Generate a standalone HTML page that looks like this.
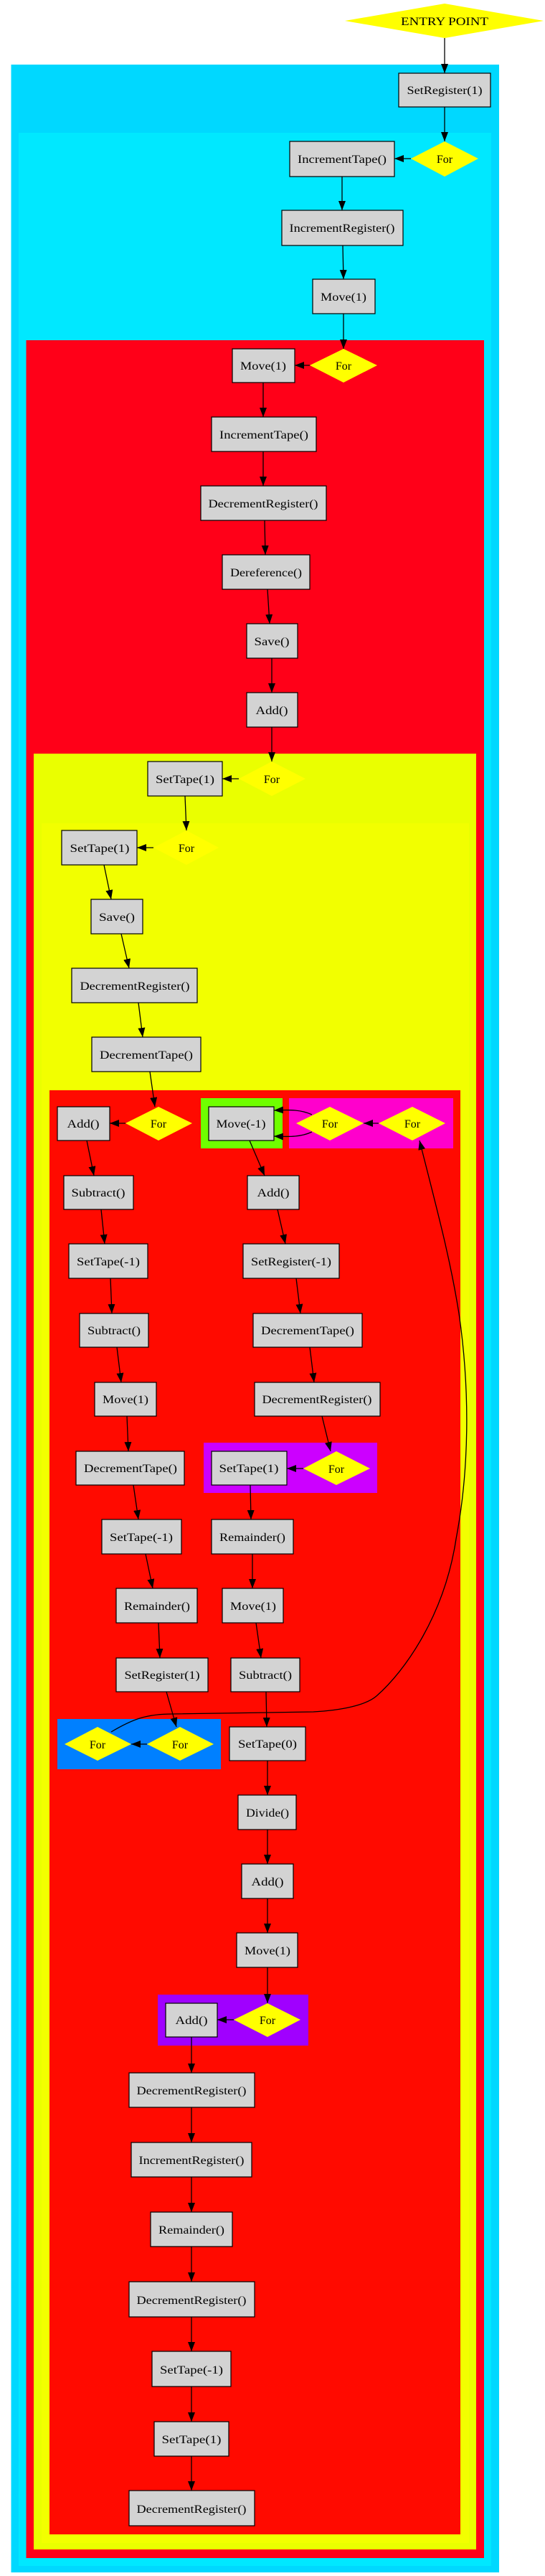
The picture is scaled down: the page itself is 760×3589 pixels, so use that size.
<!DOCTYPE html>
<html><head><meta charset="utf-8"><style>
html,body{margin:0;padding:0;background:#fff}
svg{display:block}
text{font-family:"Liberation Serif",serif;font-size:16px;fill:#000}
</style></head><body>
<svg width="760" height="3589" viewBox="0 0 760 3589" xmlns="http://www.w3.org/2000/svg">
<defs>
<marker id="a" markerUnits="userSpaceOnUse" markerWidth="14" markerHeight="10" refX="13" refY="5" orient="auto">
<path d="M0,0 L13,5 L0,10 Z" fill="#000"/>
</marker>
</defs>
<!-- clusters -->
<rect x="15.5" y="90" width="680.5" height="3494" fill="#00d8ff"/>
<rect x="26" y="185" width="659" height="3390" fill="#00e8ff"/>
<rect x="36.5" y="474" width="638.5" height="3090" fill="#ff0018"/>
<rect x="47" y="1050" width="617" height="2502" fill="#eaff00"/>
<rect x="58" y="1147" width="596" height="2396" fill="#f2ff00"/>
<rect x="69" y="1519" width="573" height="2012" fill="#ff0a00"/>
<rect x="280" y="1530" width="114" height="70" fill="#6fff00"/>
<rect x="403" y="1530" width="229" height="70" fill="#ff00cc"/>
<rect x="284" y="2010" width="242" height="70" fill="#cc00ff"/>
<rect x="80" y="2395" width="228" height="70" fill="#0080ff"/>
<rect x="220" y="2779" width="210" height="71" fill="#a000ff"/>

<g fill="#ffff00">
<polygon points="481,29 620,5 758,29 620,53"/>
<polygon points="573,221 620,197 667,221 620,246"/>
<polygon points="432,509 479,486 526,509 479,533"/>
<polygon points="333,1085 379,1061 426,1085 379,1109"/>
<polygon points="214,1181 260,1157 305,1181 260,1205"/>
<polygon points="175,1565 221,1542 268,1565 221,1589"/>
<polygon points="413,1565 460,1542 507,1565 460,1589"/>
<polygon points="528,1565 575,1542 621,1565 575,1589"/>
<polygon points="423,2046 469,2022 516,2046 469,2069"/>
<polygon points="90,2430 136,2406 183,2430 136,2453"/>
<polygon points="205,2430 251,2406 298,2430 251,2453"/>
<polygon points="326,2814 373,2791 419,2814 373,2838"/>
</g>
<g text-anchor="middle">
<text x="620" y="35" textLength="122" lengthAdjust="spacingAndGlyphs">ENTRY POINT</text>
<text x="620" y="227">For</text>
<text x="479" y="515">For</text>
<text x="379" y="1091">For</text>
<text x="260" y="1187">For</text>
<text x="221" y="1571">For</text>
<text x="460" y="1571">For</text>
<text x="575" y="1571">For</text>
<text x="469" y="2052">For</text>
<text x="136" y="2436">For</text>
<text x="251" y="2436">For</text>
<text x="373" y="2820">For</text>
</g>

<g fill="#d3d3d3" stroke="#000" stroke-width="1.2">
<rect x="556" y="102" width="128" height="47"/>
<rect x="404" y="197" width="146" height="49"/>
<rect x="393" y="293" width="169" height="49"/>
<rect x="436" y="389" width="87" height="48"/>
<rect x="324" y="486" width="87" height="47"/>
<rect x="295" y="581" width="146" height="48"/>
<rect x="280" y="677" width="175" height="48"/>
<rect x="310" y="773" width="122" height="48"/>
<rect x="344" y="869" width="71" height="48"/>
<rect x="344" y="965" width="71" height="48"/>
<rect x="206" y="1061" width="104" height="48"/>
<rect x="86" y="1157" width="105" height="48"/>
<rect x="127" y="1253" width="72" height="48"/>
<rect x="100" y="1349" width="175" height="48"/>
<rect x="128" y="1445" width="152" height="48"/>
<rect x="80" y="1542" width="73" height="47"/>
<rect x="291" y="1542" width="91" height="47"/>
<rect x="345" y="1638" width="72" height="47"/>
<rect x="89" y="1638" width="97" height="47"/>
<rect x="96" y="1733" width="110" height="48"/>
<rect x="339" y="1733" width="134" height="48"/>
<rect x="111" y="1830" width="96" height="47"/>
<rect x="353" y="1830" width="152" height="47"/>
<rect x="132" y="1926" width="86" height="47"/>
<rect x="355" y="1926" width="175" height="47"/>
<rect x="106" y="2022" width="151" height="47"/>
<rect x="295" y="2022" width="105" height="47"/>
<rect x="142" y="2117" width="111" height="48"/>
<rect x="295" y="2117" width="114" height="48"/>
<rect x="162" y="2213" width="113" height="48"/>
<rect x="310" y="2213" width="85" height="48"/>
<rect x="162" y="2310" width="128" height="47"/>
<rect x="322" y="2310" width="96" height="47"/>
<rect x="320" y="2406" width="106" height="47"/>
<rect x="332" y="2501" width="81" height="48"/>
<rect x="337" y="2597" width="72" height="48"/>
<rect x="330" y="2693" width="85" height="48"/>
<rect x="231" y="2791" width="72" height="47"/>
<rect x="180" y="2888" width="175" height="48"/>
<rect x="183" y="2985" width="168" height="48"/>
<rect x="210" y="3082" width="114" height="48"/>
<rect x="180" y="3179" width="175" height="49"/>
<rect x="212" y="3276" width="110" height="49"/>
<rect x="215" y="3374" width="104" height="48"/>
<rect x="180" y="3470" width="175" height="49"/>
</g>
<g text-anchor="middle" lengthAdjust="spacingAndGlyphs">
<text x="620" y="131" textLength="105" lengthAdjust="spacingAndGlyphs">SetRegister(1)</text>
<text x="477" y="227" textLength="124" lengthAdjust="spacingAndGlyphs">IncrementTape()</text>
<text x="477" y="323" textLength="147" lengthAdjust="spacingAndGlyphs">IncrementRegister()</text>
<text x="479" y="419" textLength="64" lengthAdjust="spacingAndGlyphs">Move(1)</text>
<text x="367" y="515" textLength="64" lengthAdjust="spacingAndGlyphs">Move(1)</text>
<text x="368" y="611" textLength="124" lengthAdjust="spacingAndGlyphs">IncrementTape()</text>
<text x="367" y="707" textLength="153" lengthAdjust="spacingAndGlyphs">DecrementRegister()</text>
<text x="371" y="803" textLength="100" lengthAdjust="spacingAndGlyphs">Dereference()</text>
<text x="379" y="899" textLength="49" lengthAdjust="spacingAndGlyphs">Save()</text>
<text x="379" y="995" textLength="45" lengthAdjust="spacingAndGlyphs">Add()</text>
<text x="258" y="1091" textLength="82" lengthAdjust="spacingAndGlyphs">SetTape(1)</text>
<text x="139" y="1187" textLength="83" lengthAdjust="spacingAndGlyphs">SetTape(1)</text>
<text x="163" y="1283" textLength="50" lengthAdjust="spacingAndGlyphs">Save()</text>
<text x="188" y="1379" textLength="153" lengthAdjust="spacingAndGlyphs">DecrementRegister()</text>
<text x="204" y="1475" textLength="130" lengthAdjust="spacingAndGlyphs">DecrementTape()</text>
<text x="116" y="1571" textLength="45" lengthAdjust="spacingAndGlyphs">Add()</text>
<text x="336" y="1571" textLength="69" lengthAdjust="spacingAndGlyphs">Move(-1)</text>
<text x="381" y="1667" textLength="45" lengthAdjust="spacingAndGlyphs">Add()</text>
<text x="137" y="1667" textLength="75" lengthAdjust="spacingAndGlyphs">Subtract()</text>
<text x="151" y="1763" textLength="88" lengthAdjust="spacingAndGlyphs">SetTape(-1)</text>
<text x="406" y="1763" textLength="112" lengthAdjust="spacingAndGlyphs">SetRegister(-1)</text>
<text x="159" y="1859" textLength="74" lengthAdjust="spacingAndGlyphs">Subtract()</text>
<text x="429" y="1859" textLength="130" lengthAdjust="spacingAndGlyphs">DecrementTape()</text>
<text x="175" y="1955" textLength="64" lengthAdjust="spacingAndGlyphs">Move(1)</text>
<text x="442" y="1955" textLength="153" lengthAdjust="spacingAndGlyphs">DecrementRegister()</text>
<text x="182" y="2051" textLength="130" lengthAdjust="spacingAndGlyphs">DecrementTape()</text>
<text x="347" y="2051" textLength="83" lengthAdjust="spacingAndGlyphs">SetTape(1)</text>
<text x="197" y="2147" textLength="88" lengthAdjust="spacingAndGlyphs">SetTape(-1)</text>
<text x="352" y="2147" textLength="92" lengthAdjust="spacingAndGlyphs">Remainder()</text>
<text x="219" y="2243" textLength="92" lengthAdjust="spacingAndGlyphs">Remainder()</text>
<text x="353" y="2243" textLength="64" lengthAdjust="spacingAndGlyphs">Move(1)</text>
<text x="226" y="2339" textLength="105" lengthAdjust="spacingAndGlyphs">SetRegister(1)</text>
<text x="370" y="2339" textLength="74" lengthAdjust="spacingAndGlyphs">Subtract()</text>
<text x="373" y="2435" textLength="82" lengthAdjust="spacingAndGlyphs">SetTape(0)</text>
<text x="373" y="2531" textLength="60" lengthAdjust="spacingAndGlyphs">Divide()</text>
<text x="373" y="2627" textLength="45" lengthAdjust="spacingAndGlyphs">Add()</text>
<text x="373" y="2723" textLength="64" lengthAdjust="spacingAndGlyphs">Move(1)</text>
<text x="267" y="2820" textLength="45" lengthAdjust="spacingAndGlyphs">Add()</text>
<text x="267" y="2918" textLength="153" lengthAdjust="spacingAndGlyphs">DecrementRegister()</text>
<text x="267" y="3015" textLength="147" lengthAdjust="spacingAndGlyphs">IncrementRegister()</text>
<text x="267" y="3112" textLength="92" lengthAdjust="spacingAndGlyphs">Remainder()</text>
<text x="267" y="3210" textLength="153" lengthAdjust="spacingAndGlyphs">DecrementRegister()</text>
<text x="267" y="3307" textLength="88" lengthAdjust="spacingAndGlyphs">SetTape(-1)</text>
<text x="267" y="3404" textLength="83" lengthAdjust="spacingAndGlyphs">SetTape(1)</text>
<text x="267" y="3501" textLength="153" lengthAdjust="spacingAndGlyphs">DecrementRegister()</text>
</g>

<g stroke="#000" stroke-width="1.3" fill="none" marker-end="url(#a)">
<line x1="620" y1="53" x2="620" y2="102"/>
<line x1="620" y1="149" x2="620" y2="197"/>
<line x1="573" y1="221" x2="550" y2="221"/>
<line x1="477" y1="246" x2="477" y2="293"/>
<line x1="478" y1="342" x2="479" y2="389"/>
<line x1="479" y1="437" x2="479" y2="486"/>
<line x1="432" y1="509" x2="411" y2="509"/>
<line x1="367" y1="533" x2="367" y2="581"/>
<line x1="367" y1="629" x2="367" y2="677"/>
<line x1="369" y1="725" x2="370" y2="773"/>
<line x1="373" y1="821" x2="376" y2="869"/>
<line x1="379" y1="917" x2="379" y2="965"/>
<line x1="379" y1="1013" x2="379" y2="1061"/>
<line x1="333" y1="1085" x2="310" y2="1085"/>
<line x1="258" y1="1109" x2="260" y2="1157"/>
<line x1="214" y1="1181" x2="191" y2="1181"/>
<line x1="145" y1="1205" x2="155" y2="1253"/>
<line x1="169" y1="1301" x2="180" y2="1349"/>
<line x1="193" y1="1397" x2="199" y2="1445"/>
<line x1="209" y1="1493" x2="216" y2="1542"/>
<line x1="175" y1="1565" x2="153" y2="1565"/>
<path d="M435,1553 C420,1546 405,1546 382,1547"/>
<path d="M435,1577 C420,1584 405,1584 382,1583"/>
<line x1="528" y1="1565" x2="507" y2="1565"/>
<line x1="121" y1="1589" x2="131" y2="1638"/>
<line x1="348" y1="1589" x2="369" y2="1638"/>
<line x1="141" y1="1685" x2="146" y2="1733"/>
<line x1="387" y1="1685" x2="398" y2="1733"/>
<line x1="154" y1="1781" x2="156" y2="1830"/>
<line x1="413" y1="1781" x2="419" y2="1830"/>
<line x1="163" y1="1877" x2="169" y2="1926"/>
<line x1="432" y1="1877" x2="438" y2="1926"/>
<line x1="177" y1="1973" x2="179" y2="2022"/>
<line x1="449" y1="1973" x2="461" y2="2022"/>
<line x1="423" y1="2046" x2="400" y2="2046"/>
<line x1="186" y1="2069" x2="193" y2="2117"/>
<line x1="349" y1="2069" x2="350" y2="2117"/>
<line x1="203" y1="2165" x2="213" y2="2213"/>
<line x1="352" y1="2165" x2="352" y2="2213"/>
<line x1="221" y1="2261" x2="223" y2="2310"/>
<line x1="357" y1="2261" x2="364" y2="2310"/>
<line x1="232" y1="2357" x2="246" y2="2406"/>
<line x1="205" y1="2430" x2="183" y2="2430"/>
<line x1="371" y1="2357" x2="372" y2="2406"/>
<path d="M155,2413 C185,2395 205,2388 240,2388 L437,2385 C475,2383 510,2376 525,2363 C565,2328 620,2250 636,2144 C654,2050 656,1940 640,1830 C628,1755 612,1695 585,1589"/>
<line x1="373" y1="2453" x2="373" y2="2501"/>
<line x1="373" y1="2549" x2="373" y2="2597"/>
<line x1="373" y1="2645" x2="373" y2="2693"/>
<line x1="373" y1="2741" x2="373" y2="2791"/>
<line x1="326" y1="2814" x2="303" y2="2814"/>
<line x1="267" y1="2838" x2="267" y2="2888"/>
<line x1="267" y1="2936" x2="267" y2="2985"/>
<line x1="267" y1="3033" x2="267" y2="3082"/>
<line x1="267" y1="3130" x2="267" y2="3179"/>
<line x1="267" y1="3228" x2="267" y2="3276"/>
<line x1="267" y1="3325" x2="267" y2="3374"/>
<line x1="267" y1="3422" x2="267" y2="3470"/>
</g>
</svg>
</body></html>
